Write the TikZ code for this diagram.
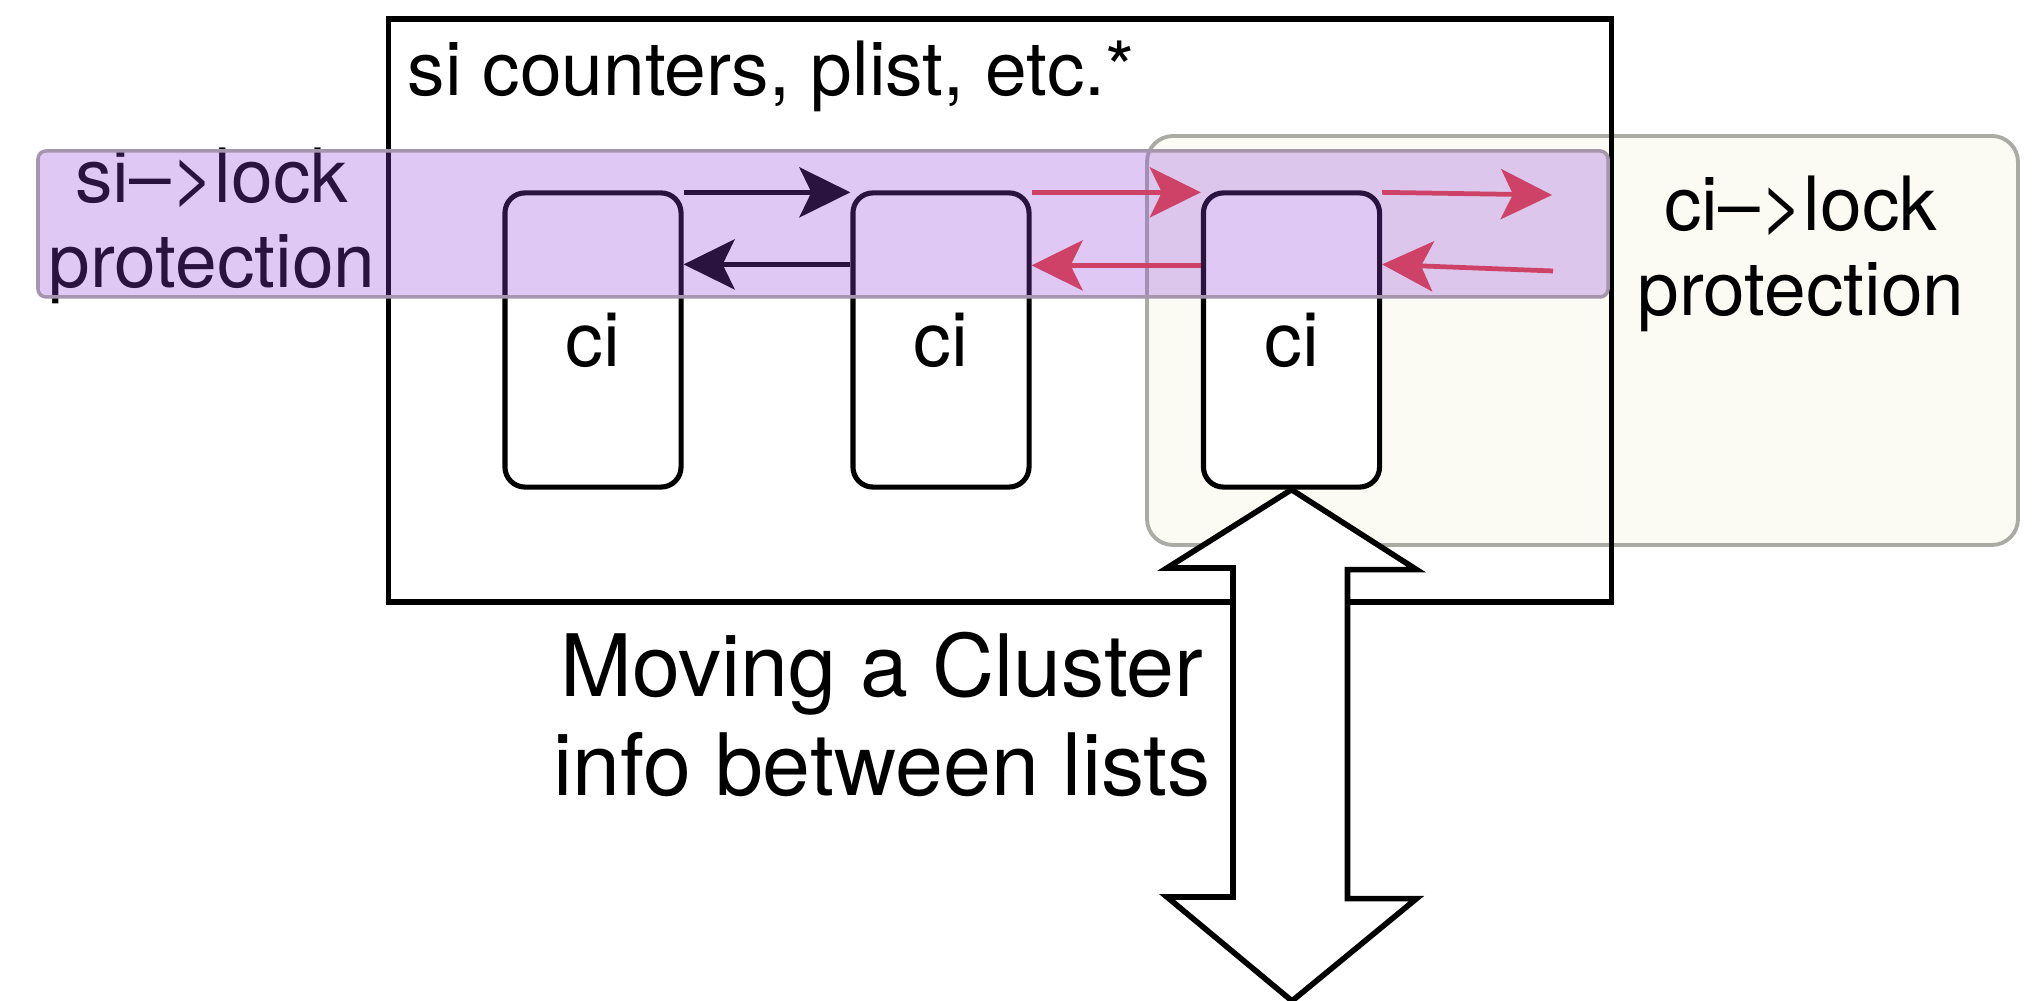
\documentclass[tikz,border=0pt]{standalone}
\usepackage{fontspec}
\setmainfont{TeX Gyre Heros}
\usetikzlibrary{arrows.meta}

\definecolor{bandfill}{HTML}{9148DC}
\definecolor{bandline}{HTML}{A596AE}
\definecolor{creamfill}{HTML}{FBFAF3}
\definecolor{creamline}{HTML}{ABABA6}
\definecolor{linkred}{HTML}{CD4266}

\tikzset{
  cibox/.style={draw=black, line width=1.45pt, fill=white, rounded corners=0.2cm,
    minimum width=1.76cm, minimum height=2.94cm, inner sep=0pt,
    font=\fontsize{21.5}{24}\selectfont},
  lbl/.style={inner sep=0pt, font=\fontsize{21.3}{24.2}\selectfont, align=center},
  darklink/.style={draw=black, line width=1.35pt,
    -{Stealth[length=0.51cm, width=0.5cm, inset=0.12cm]}},
  redlink/.style={draw=linkred, line width=1.35pt,
    -{Stealth[length=0.51cm, width=0.5cm, inset=0.12cm]}},
}

\begin{document}
\begin{tikzpicture}[x=0.01cm, y=-0.01cm]
  \useasboundingbox[fill=white] (0,0) rectangle (2038,1001);

  % cream area of the cluster lock
  \draw[fill=creamfill, draw=creamline, line width=1.1pt, rounded corners=0.26cm]
    (1147,136) rectangle (2018,545);

  % swap info container
  \node[draw=black, line width=1.6pt, inner sep=0pt, minimum width=12.22cm,
        minimum height=5.83cm] (si) at (1000,310.5) {};
  \node[lbl, anchor=base west] (sitext) at (407,96) {si counters, plist, etc.*};

  % cluster info boxes
  \node[cibox] (b1) at (593,340) {ci};
  \node[cibox] (b2) at (941,340) {ci};
  \node[cibox] (b3) at (1291.5,340) {ci};

  % free ends of the outer links
  \coordinate (nextout) at (1552,195);
  \coordinate (nextin) at (1553,271);

  % links between the boxes
  \draw[darklink] ([yshift=-0.02cm]b1.north east) -- ([yshift=-0.02cm]b2.north west);
  \draw[darklink] ([yshift=-0.74cm]b2.north west) -- ([yshift=-0.74cm]b1.north east);

  % si->lock label (anchored on the baseline of its last line)
  \node[lbl, anchor=base] (silock) at (212,288) {si--{}>lock\\protection};

  % si->lock band
  \draw[fill=bandfill, fill opacity=0.29, draw=bandline, line width=1pt,
        rounded corners=0.08cm] (38,151) rectangle (1608,297);

  % links guarded by ci->lock
  \draw[redlink] ([yshift=-0.02cm]b2.north east) -- ([yshift=-0.02cm]b3.north west);
  \draw[redlink] ([yshift=-0.02cm]b3.north east) -- (nextout);
  \draw[redlink] ([yshift=-0.75cm]b3.north west) -- ([yshift=-0.75cm]b2.north east);
  \draw[redlink] (nextin) -- ([yshift=-0.74cm]b3.north east);

  \node[lbl, anchor=base] (cilock) at (1801,316) {ci--{}>lock\\protection};

  % moving a cluster info between lists
  \coordinate (movebot) at (1292,1001);
  \draw[fill=white, draw=black, line width=1.6pt, line join=miter]
    (b3.south) -- ++(125,80) -- ++(-69,0) -- ++(0,329) -- ++(69,0)
    -- (movebot) -- ++(-125,-104) -- ++(66,0) -- ++(0,-329) -- ++(-66,0) -- cycle;

  \node[inner sep=0pt, align=center, anchor=base,
        font=\fontsize{24.5}{28.4}\selectfont] (movetext) at (882,796)
    {Moving a Cluster\\info between lists};
\end{tikzpicture}
\end{document}
